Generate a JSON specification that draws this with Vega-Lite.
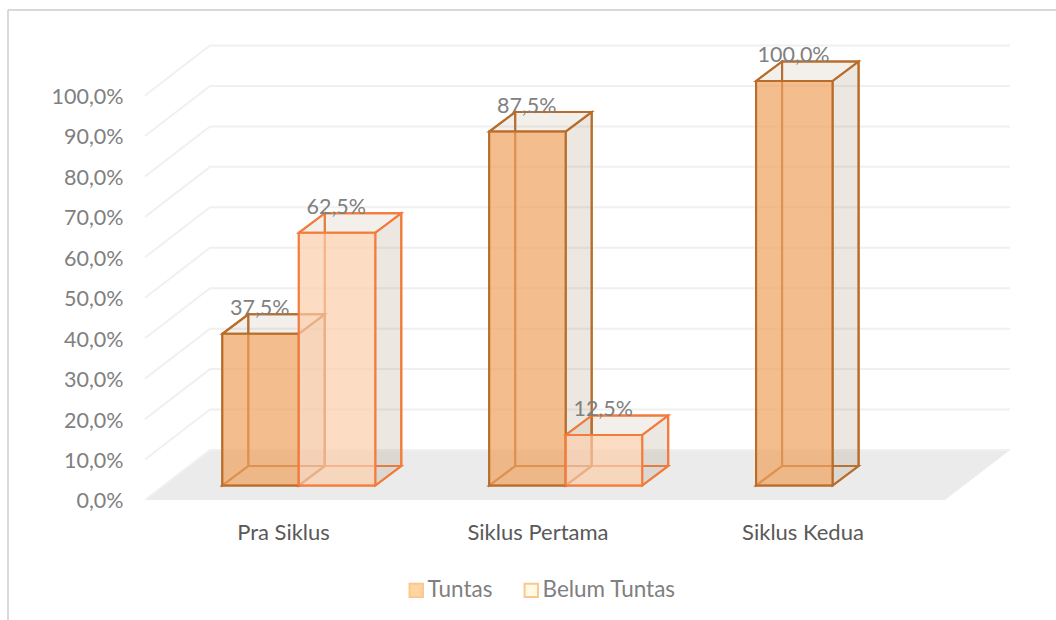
{
"$schema":"https://vega.github.io/schema/vega-lite/v6.json",
"width":1048,"height":610,
"autosize":{"type":"none"},
"padding":{"left":8,"top":10,"right":0,"bottom":0},
"background":"white",
"config":{"view":{"stroke":null},"font":"Lato"},
"resolve":{"axis":{"y":"independent"}},
"datasets":{
"bars":[
{"category":"Pra Siklus","series":"Tuntas","value":37.5},
{"category":"Siklus Pertama","series":"Tuntas","value":87.5},
{"category":"Siklus Kedua","series":"Tuntas","value":100},
{"category":"Pra Siklus","series":"Belum Tuntas","value":62.5},
{"category":"Siklus Pertama","series":"Belum Tuntas","value":12.5}
],
"ticks":[{"tick":0},{"tick":10},{"tick":20},{"tick":30},{"tick":40},{"tick":50},{"tick":60},{"tick":70},{"tick":80},{"tick":90},{"tick":100}]
},
"data":{"name":"bars"},
"transform":[
{"calculate":"indexof(['Pra Siklus','Siklus Pertama','Siklus Kedua'],datum.category)","as":"i"},
{"calculate":"datum.series==='Tuntas'?0:1","as":"slot"},
{"calculate":"datum.category+datum.series","as":"id"},
{"calculate":"[0,1]","as":"t"},
{"flatten":["t"]},
{"calculate":"222.3+266.9*datum.i+76.5*datum.slot+26*datum.t","as":"xa"},
{"calculate":"datum.xa+76.5","as":"xb"},
{"calculate":"3.58+4.82*datum.t","as":"yb"},
{"calculate":"datum.value+datum.yb","as":"yt"}
],
"layer":[
{"data":{"values":[{"t":0},{"t":1}]},
 "transform":[{"calculate":"12.36*datum.t","as":"fy"},{"calculate":"145+65*datum.t","as":"fa"},{"calculate":"945+65*datum.t","as":"fb"}],
 "mark":{"type":"area","orient":"horizontal","color":"#ebebeb"},
 "encoding":{
  "y":{"field":"fy","type":"quantitative","scale":{"domain":[-29.67,121.14],"nice":false,"zero":false},"axis":null},
  "x":{"field":"fa","type":"quantitative","scale":{"domain":[8,1056],"nice":false,"zero":false},"axis":null},
  "x2":{"field":"fb"}}},
{"data":{"name":"ticks"},
 "transform":[{"calculate":"[0,1,2]","as":"s"},{"flatten":["s"]},
  {"calculate":"datum.s===0?145:datum.s===1?210:1010","as":"gx"},
  {"calculate":"datum.tick+(datum.s>0?12.36:0)","as":"gy"}],
 "mark":{"type":"line","color":"#f0f0f0","strokeWidth":2,"interpolate":"linear"},
 "encoding":{
  "x":{"field":"gx","type":"quantitative","scale":{"domain":[8,1056],"nice":false,"zero":false},"axis":null},
  "y":{"field":"gy","type":"quantitative","scale":{"domain":[-29.67,121.14],"nice":false,"zero":false},
   "axis":{"title":null,"values":[0,10,20,30,40,50,60,70,80,90,100],"orient":"left","offset":-115,"domain":false,"ticks":false,"grid":false,"labelPadding":0,"labelOffset":2,"labelFont":"Lato","labelFontSize":21.5,"labelColor":"#808080","labelExpr":"replace(format(datum.value,'.1f'),'.',',')+'%'"}},
  "detail":{"field":"tick"},"order":{"field":"s"}}},
{"data":{"values":[{"a":1}]},
 "mark":{"type":"rule","color":"#d9d9d9","strokeWidth":2},
 "encoding":{"x":{"datum":8,"type":"quantitative","scale":{"domain":[8,1056],"nice":false,"zero":false},"axis":null}}},
{"data":{"values":[{"a":1}]},
 "mark":{"type":"rule","color":"#d9d9d9","strokeWidth":2},
 "encoding":{"y":{"datum":121.14,"type":"quantitative","scale":{"domain":[-29.67,121.14],"nice":false,"zero":false},"axis":null}}},
{"transform":[{"filter":"datum.t===1"}],
 "mark":{"type":"rect","fillOpacity":0,"strokeWidth":2,"strokeOpacity":1},
 "encoding":{
  "x":{"field":"xa","type":"quantitative","scale":{"domain":[8,1056],"nice":false,"zero":false},"axis":null},
  "x2":{"field":"xb"},
  "y":{"field":"yt","type":"quantitative","scale":{"domain":[-29.67,121.14],"nice":false,"zero":false},"axis":null},
  "y2":{"field":"yb"},
  "stroke":{"condition":{"test":"datum.series==='Tuntas'","value":"#b96d2b"},"value":"#f47b3a"}}},
{"mark":{"type":"area","orient":"horizontal","fillOpacity":0,"strokeWidth":2,"strokeOpacity":1},
 "encoding":{
  "x":{"field":"xa","type":"quantitative","scale":{"domain":[8,1056],"nice":false,"zero":false},"axis":null},
  "x2":{"field":"xb"},
  "y":{"field":"yb","type":"quantitative","scale":{"domain":[-29.67,121.14],"nice":false,"zero":false},"axis":null},
  "detail":{"field":"id"},
  "fill":{"value":"#a08764"},
  "stroke":{"condition":{"test":"datum.series==='Tuntas'","value":"#b96d2b"},"value":"#f47b3a"}}},
{"mark":{"type":"area","orient":"vertical","fillOpacity":0,"strokeWidth":2,"strokeOpacity":1},
 "encoding":{
  "x":{"field":"xa","type":"quantitative","scale":{"domain":[8,1056],"nice":false,"zero":false},"axis":null},
  "y":{"field":"yt","type":"quantitative","scale":{"domain":[-29.67,121.14],"nice":false,"zero":false},"axis":null},
  "y2":{"field":"yb"},
  "detail":{"field":"id"},
  "fill":{"value":"#a08764"},
  "stroke":{"condition":{"test":"datum.series==='Tuntas'","value":"#b96d2b"},"value":"#f47b3a"}}},
{"mark":{"type":"area","orient":"vertical","fillOpacity":0.2,"strokeWidth":2,"strokeOpacity":1},
 "encoding":{
  "x":{"field":"xb","type":"quantitative","scale":{"domain":[8,1056],"nice":false,"zero":false},"axis":null},
  "y":{"field":"yt","type":"quantitative","scale":{"domain":[-29.67,121.14],"nice":false,"zero":false},"axis":null},
  "y2":{"field":"yb"},
  "detail":{"field":"id"},
  "fill":{"value":"#a08764"},
  "stroke":{"condition":{"test":"datum.series==='Tuntas'","value":"#b96d2b"},"value":"#f47b3a"}}},
{"mark":{"type":"area","orient":"horizontal","fillOpacity":0.12,"strokeWidth":2,"strokeOpacity":1},
 "encoding":{
  "x":{"field":"xa","type":"quantitative","scale":{"domain":[8,1056],"nice":false,"zero":false},"axis":null},
  "x2":{"field":"xb"},
  "y":{"field":"yt","type":"quantitative","scale":{"domain":[-29.67,121.14],"nice":false,"zero":false},"axis":null},
  "detail":{"field":"id"},
  "fill":{"value":"#a08764"},
  "stroke":{"condition":{"test":"datum.series==='Tuntas'","value":"#b96d2b"},"value":"#f47b3a"}}},
{"transform":[{"filter":"datum.t===0"}],
 "mark":{"type":"rect","fillOpacity":0.7,"strokeWidth":2,"strokeOpacity":1},
 "encoding":{
  "x":{"field":"xa","type":"quantitative","scale":{"domain":[8,1056],"nice":false,"zero":false},"axis":null},
  "x2":{"field":"xb"},
  "y":{"field":"yt","type":"quantitative","scale":{"domain":[-29.67,121.14],"nice":false,"zero":false},"axis":null},
  "y2":{"field":"yb"},
  "fill":{"condition":{"test":"datum.series==='Tuntas'","value":"#efa15e"},"value":"#fccdab"},
  "stroke":{"condition":{"test":"datum.series==='Tuntas'","value":"#b96d2b"},"value":"#f47b3a"}}},
{"transform":[{"filter":"datum.t===0"},{"calculate":"datum.xa+37.5","as":"lx"},{"calculate":"datum.yt+6.1","as":"ly"},{"calculate":"replace(format(datum.value,'.1f'),'.',',')+'%'","as":"lab"}],
 "mark":{"type":"text","font":"Lato","fontSize":21.5,"color":"#808080","align":"center","baseline":"middle"},
 "encoding":{
  "x":{"field":"lx","type":"quantitative","scale":{"domain":[8,1056],"nice":false,"zero":false},"axis":null},
  "y":{"field":"ly","type":"quantitative","scale":{"domain":[-29.67,121.14],"nice":false,"zero":false},"axis":null},
  "text":{"field":"lab"}}},
{"transform":[{"filter":"datum.t===0 && datum.series==='Tuntas'"},{"calculate":"[283.5,538,803][datum.i]","as":"cx"},{"calculate":"-8.2","as":"cy"}],
 "mark":{"type":"text","font":"Lato","fontSize":22,"color":"#595959","align":"center","baseline":"middle"},
 "encoding":{
  "x":{"field":"cx","type":"quantitative","scale":{"domain":[8,1056],"nice":false,"zero":false},"axis":null},
  "y":{"field":"cy","type":"quantitative","scale":{"domain":[-29.67,121.14],"nice":false,"zero":false},"axis":null},
  "text":{"field":"category"}}},
{"transform":[{"filter":"datum.t===2"}],
 "mark":{"type":"point","filled":true,"shape":"square"},
 "encoding":{
  "x":{"field":"xa","type":"quantitative","scale":{"domain":[8,1056],"nice":false,"zero":false},"axis":null},
  "y":{"field":"yt","type":"quantitative","scale":{"domain":[-29.67,121.14],"nice":false,"zero":false},"axis":null},
  "fill":{"field":"series","type":"nominal",
   "scale":{"domain":["Tuntas","Belum Tuntas"],"range":["#ffd5a3","#fffae5"]},
   "legend":{"title":null,"orient":"none","legendX":397,"legendY":569,"direction":"horizontal","padding":0,"symbolType":"square","symbolSize":180,"symbolStrokeColor":"#fcc68f","symbolStrokeWidth":2,"symbolOpacity":1,"labelFont":"Lato","labelFontSize":22.5,"labelColor":"#808080","labelOffset":0,"columnPadding":27}}}}
]
}
